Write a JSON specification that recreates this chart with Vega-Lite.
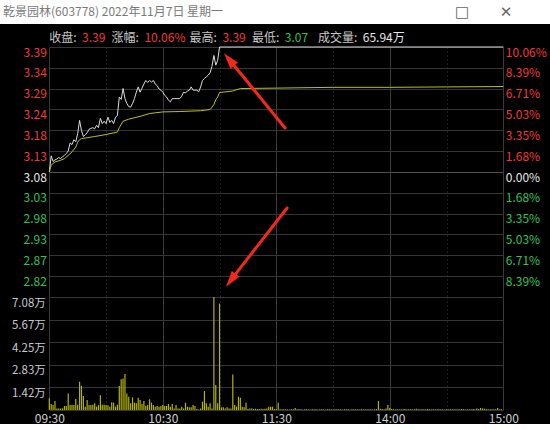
{
  "$schema": "https://vega.github.io/schema/vega-lite/v6.json",
  "background": "#000000",
  "padding": 0,
  "spacing": 0,
  "bounds": "flush",
  "config": {
    "view": {"stroke": null},
    "font": "Noto Sans CJK SC",
    "axis": {"labelFont": "Noto Sans CJK SC", "domain": false, "ticks": false, "tickSize": 0, "title": null, "labelOverlap": false, "labelFlush": false},
    "concat": {"spacing": 0}
  },
  "datasets": {
    "winbtn": [{"b": "□"}, {"b": "✕"}],
    "header": [
      {"k": "收盘:", "v": "3.39", "dir": "up"},
      {"k": "涨幅:", "v": "10.06%", "dir": "up"},
      {"k": "最高:", "v": "3.39", "dir": "up"},
      {"k": "最低:", "v": "3.07", "dir": "down"},
      {"k": "成交量:", "v": "65.94万", "dir": "flat"}
    ],
    "price": [
      {"m": 0, "p": 3.08}, {"m": 1, "p": 3.12}, {"m": 2, "p": 3.106}, {"m": 3, "p": 3.11}, {"m": 4, "p": 3.112},
      {"m": 5, "p": 3.116}, {"m": 6, "p": 3.113}, {"m": 7, "p": 3.118}, {"m": 8, "p": 3.121}, {"m": 9, "p": 3.126},
      {"m": 10, "p": 3.132}, {"m": 11, "p": 3.152}, {"m": 12, "p": 3.148}, {"m": 13, "p": 3.16}, {"m": 14, "p": 3.155},
      {"m": 15, "p": 3.175}, {"m": 16, "p": 3.208}, {"m": 17, "p": 3.183}, {"m": 18, "p": 3.168}, {"m": 19, "p": 3.172},
      {"m": 20, "p": 3.177}, {"m": 21, "p": 3.186}, {"m": 22, "p": 3.188}, {"m": 23, "p": 3.19}, {"m": 24, "p": 3.187},
      {"m": 25, "p": 3.196}, {"m": 26, "p": 3.19}, {"m": 27, "p": 3.213}, {"m": 28, "p": 3.2}, {"m": 29, "p": 3.206},
      {"m": 30, "p": 3.2}, {"m": 31, "p": 3.216}, {"m": 32, "p": 3.203}, {"m": 33, "p": 3.208}, {"m": 34, "p": 3.2},
      {"m": 35, "p": 3.216}, {"m": 36, "p": 3.22}, {"m": 37, "p": 3.266}, {"m": 38, "p": 3.26}, {"m": 39, "p": 3.287},
      {"m": 40, "p": 3.262}, {"m": 41, "p": 3.25}, {"m": 42, "p": 3.242}, {"m": 43, "p": 3.241}, {"m": 44, "p": 3.25},
      {"m": 45, "p": 3.262}, {"m": 46, "p": 3.278}, {"m": 47, "p": 3.291}, {"m": 48, "p": 3.278}, {"m": 49, "p": 3.288},
      {"m": 50, "p": 3.298}, {"m": 51, "p": 3.307}, {"m": 52, "p": 3.302}, {"m": 53, "p": 3.307}, {"m": 54, "p": 3.303},
      {"m": 55, "p": 3.307}, {"m": 56, "p": 3.298}, {"m": 57, "p": 3.294}, {"m": 58, "p": 3.286}, {"m": 59, "p": 3.283},
      {"m": 60, "p": 3.278}, {"m": 61, "p": 3.27}, {"m": 62, "p": 3.266}, {"m": 63, "p": 3.258}, {"m": 64, "p": 3.254},
      {"m": 65, "p": 3.262}, {"m": 66, "p": 3.262}, {"m": 67, "p": 3.262}, {"m": 68, "p": 3.262}, {"m": 69, "p": 3.262},
      {"m": 70, "p": 3.268}, {"m": 71, "p": 3.278}, {"m": 72, "p": 3.276}, {"m": 73, "p": 3.281}, {"m": 74, "p": 3.283},
      {"m": 75, "p": 3.291}, {"m": 76, "p": 3.283}, {"m": 77, "p": 3.283}, {"m": 78, "p": 3.283}, {"m": 79, "p": 3.279},
      {"m": 80, "p": 3.291}, {"m": 81, "p": 3.307}, {"m": 82, "p": 3.312}, {"m": 83, "p": 3.316}, {"m": 84, "p": 3.32},
      {"m": 85, "p": 3.326}, {"m": 86, "p": 3.342}, {"m": 87, "p": 3.369}, {"m": 88, "p": 3.345}, {"m": 89, "p": 3.357},
      {"m": 90, "p": 3.39}, {"m": 240, "p": 3.39}
    ],
    "avg": [
      {"m": 0, "a": 3.08}, {"m": 1, "a": 3.097}, {"m": 3, "a": 3.105}, {"m": 6, "a": 3.109}, {"m": 8, "a": 3.113},
      {"m": 10, "a": 3.121}, {"m": 12, "a": 3.13}, {"m": 14, "a": 3.142}, {"m": 15, "a": 3.154}, {"m": 16, "a": 3.16},
      {"m": 17, "a": 3.163}, {"m": 20, "a": 3.165}, {"m": 24, "a": 3.168}, {"m": 30, "a": 3.173}, {"m": 36, "a": 3.179},
      {"m": 37, "a": 3.19}, {"m": 39, "a": 3.206}, {"m": 42, "a": 3.211}, {"m": 48, "a": 3.218}, {"m": 53, "a": 3.225},
      {"m": 60, "a": 3.229}, {"m": 69, "a": 3.23}, {"m": 80, "a": 3.232}, {"m": 85, "a": 3.235}, {"m": 87, "a": 3.247},
      {"m": 88, "a": 3.259}, {"m": 89, "a": 3.266}, {"m": 90, "a": 3.277}, {"m": 97, "a": 3.281}, {"m": 101, "a": 3.287},
      {"m": 120, "a": 3.288}, {"m": 150, "a": 3.29}, {"m": 180, "a": 3.29}, {"m": 210, "a": 3.291}, {"m": 240, "a": 3.292}
    ],
    "arrows": [
      {"id": "high", "m0": 124.6, "p0": 3.1891, "m1": 96.7, "p1": 3.3496, "mt": 92.35, "pt": 3.3744},
      {"id": "vol", "m0": 125.7, "p0": 2.9907, "m1": 97.5, "p1": 2.8213, "mt": 93.4, "pt": 2.7956}
    ],
    "vol": [
      {"m": 0, "v": 0.73}, {"m": 1, "v": 0.38}, {"m": 2, "v": 0.31}, {"m": 3, "v": 0.56}, {"m": 4, "v": 0.1},
      {"m": 5, "v": 0.1}, {"m": 6, "v": 0.1}, {"m": 7, "v": 0.1}, {"m": 8, "v": 0.25}, {"m": 9, "v": 0.25},
      {"m": 10, "v": 1.04}, {"m": 11, "v": 0.31}, {"m": 12, "v": 0.33}, {"m": 13, "v": 0.31}, {"m": 14, "v": 0.69},
      {"m": 15, "v": 0.33}, {"m": 16, "v": 1.77}, {"m": 17, "v": 1.52}, {"m": 18, "v": 0.88}, {"m": 19, "v": 0.21},
      {"m": 20, "v": 0.62}, {"m": 21, "v": 0.31}, {"m": 22, "v": 0.31}, {"m": 23, "v": 0.33}, {"m": 24, "v": 0.42},
      {"m": 25, "v": 0.21}, {"m": 26, "v": 0.31}, {"m": 27, "v": 0.92}, {"m": 28, "v": 0.33}, {"m": 29, "v": 0.33},
      {"m": 30, "v": 0.31}, {"m": 31, "v": 0.29}, {"m": 32, "v": 0.21}, {"m": 33, "v": 0.48}, {"m": 34, "v": 0.46},
      {"m": 35, "v": 0.21}, {"m": 36, "v": 0.33}, {"m": 37, "v": 1.5}, {"m": 38, "v": 1.92}, {"m": 39, "v": 1.98},
      {"m": 40, "v": 2.25}, {"m": 41, "v": 1.04}, {"m": 42, "v": 0.83}, {"m": 43, "v": 0.42}, {"m": 44, "v": 0.79},
      {"m": 45, "v": 0.46}, {"m": 46, "v": 0.42}, {"m": 47, "v": 0.77}, {"m": 48, "v": 0.62}, {"m": 49, "v": 0.38},
      {"m": 50, "v": 0.56}, {"m": 51, "v": 0.27}, {"m": 52, "v": 0.31}, {"m": 53, "v": 0.67}, {"m": 54, "v": 0.46},
      {"m": 55, "v": 0.31}, {"m": 56, "v": 0.21}, {"m": 57, "v": 0.25}, {"m": 58, "v": 0.21}, {"m": 59, "v": 0.25},
      {"m": 60, "v": 0.31}, {"m": 61, "v": 0.25}, {"m": 62, "v": 0.25}, {"m": 63, "v": 0.38}, {"m": 64, "v": 0.21},
      {"m": 65, "v": 0.38}, {"m": 66, "v": 0.1}, {"m": 67, "v": 0.31}, {"m": 68, "v": 0.1}, {"m": 69, "v": 0.1},
      {"m": 70, "v": 0.2}, {"m": 71, "v": 0.1}, {"m": 72, "v": 0.46}, {"m": 73, "v": 0.21}, {"m": 74, "v": 0.17},
      {"m": 75, "v": 0.17}, {"m": 76, "v": 0.31}, {"m": 77, "v": 0.25}, {"m": 78, "v": 0.06}, {"m": 79, "v": 0.03},
      {"m": 80, "v": 0.1}, {"m": 81, "v": 0.52}, {"m": 82, "v": 1.19}, {"m": 83, "v": 0.42}, {"m": 84, "v": 0.21},
      {"m": 85, "v": 0.42}, {"m": 86, "v": 0.1}, {"m": 87, "v": 7.08}, {"m": 88, "v": 1.56}, {"m": 89, "v": 0.42},
      {"m": 90, "v": 6.67}, {"m": 91, "v": 0.17}, {"m": 92, "v": 0.17}, {"m": 93, "v": 0.1}, {"m": 94, "v": 0.17},
      {"m": 95, "v": 0.1}, {"m": 96, "v": 0.1}, {"m": 97, "v": 2.23}, {"m": 98, "v": 0.31}, {"m": 99, "v": 0.21},
      {"m": 100, "v": 0.83}, {"m": 101, "v": 0.77}, {"m": 102, "v": 0.21}, {"m": 103, "v": 0.17}, {"m": 104, "v": 0.46},
      {"m": 105, "v": 0.06}, {"m": 106, "v": 0.1}, {"m": 107, "v": 0.1}, {"m": 108, "v": 0.06}, {"m": 109, "v": 0.08},
      {"m": 110, "v": 0.06}, {"m": 111, "v": 0.06}, {"m": 112, "v": 0.08}, {"m": 113, "v": 0.06}, {"m": 114, "v": 0.08},
      {"m": 115, "v": 0.1}, {"m": 116, "v": 0.21}, {"m": 117, "v": 0.21}, {"m": 118, "v": 0.21}, {"m": 119, "v": 0.06},
      {"m": 120, "v": 0.06}, {"m": 121, "v": 0.46}, {"m": 122, "v": 0.05}, {"m": 123, "v": 0.04}, {"m": 124, "v": 0.05},
      {"m": 125, "v": 0.04}, {"m": 126, "v": 0.05}, {"m": 127, "v": 0.03}, {"m": 128, "v": 0.05}, {"m": 129, "v": 0.04},
      {"m": 130, "v": 0.13}, {"m": 131, "v": 0.05}, {"m": 132, "v": 0.04}, {"m": 133, "v": 0.05}, {"m": 134, "v": 0.03},
      {"m": 135, "v": 0.04}, {"m": 136, "v": 0.05}, {"m": 137, "v": 0.04}, {"m": 138, "v": 0.03}, {"m": 139, "v": 0.05},
      {"m": 140, "v": 0.04}, {"m": 141, "v": 0.05}, {"m": 142, "v": 0.03}, {"m": 143, "v": 0.04}, {"m": 144, "v": 0.05},
      {"m": 145, "v": 0.04}, {"m": 146, "v": 0.03}, {"m": 147, "v": 0.05}, {"m": 148, "v": 0.04}, {"m": 149, "v": 0.05},
      {"m": 150, "v": 0.03}, {"m": 151, "v": 0.04}, {"m": 152, "v": 0.05}, {"m": 153, "v": 0.04}, {"m": 154, "v": 0.05},
      {"m": 155, "v": 0.03}, {"m": 156, "v": 0.04}, {"m": 157, "v": 0.05}, {"m": 158, "v": 0.04}, {"m": 159, "v": 0.03},
      {"m": 160, "v": 0.05}, {"m": 161, "v": 0.04}, {"m": 162, "v": 0.05}, {"m": 163, "v": 0.04}, {"m": 164, "v": 0.03},
      {"m": 165, "v": 0.05}, {"m": 166, "v": 0.04}, {"m": 167, "v": 0.05}, {"m": 168, "v": 0.04}, {"m": 169, "v": 0.05},
      {"m": 170, "v": 0.04}, {"m": 171, "v": 0.03}, {"m": 172, "v": 0.05}, {"m": 173, "v": 0.06}, {"m": 174, "v": 0.56},
      {"m": 175, "v": 0.08}, {"m": 176, "v": 0.06}, {"m": 177, "v": 0.05}, {"m": 178, "v": 0.1}, {"m": 179, "v": 0.31},
      {"m": 180, "v": 0.12}, {"m": 181, "v": 0.06}, {"m": 182, "v": 0.05}, {"m": 183, "v": 0.04}, {"m": 184, "v": 0.05},
      {"m": 185, "v": 0.04}, {"m": 186, "v": 0.05}, {"m": 187, "v": 0.04}, {"m": 188, "v": 0.06}, {"m": 189, "v": 0.05},
      {"m": 190, "v": 0.04}, {"m": 191, "v": 0.05}, {"m": 192, "v": 0.04}, {"m": 193, "v": 0.05}, {"m": 194, "v": 0.08},
      {"m": 195, "v": 0.04}, {"m": 196, "v": 0.05}, {"m": 197, "v": 0.04}, {"m": 198, "v": 0.05}, {"m": 199, "v": 0.04},
      {"m": 200, "v": 0.06}, {"m": 201, "v": 0.05}, {"m": 202, "v": 0.04}, {"m": 203, "v": 0.05}, {"m": 204, "v": 0.04},
      {"m": 205, "v": 0.05}, {"m": 206, "v": 0.04}, {"m": 207, "v": 0.05}, {"m": 208, "v": 0.04}, {"m": 209, "v": 0.03},
      {"m": 210, "v": 0.05}, {"m": 211, "v": 0.04}, {"m": 212, "v": 0.05}, {"m": 213, "v": 0.04}, {"m": 214, "v": 0.05},
      {"m": 215, "v": 0.04}, {"m": 216, "v": 0.05}, {"m": 217, "v": 0.04}, {"m": 218, "v": 0.06}, {"m": 219, "v": 0.05},
      {"m": 220, "v": 0.04}, {"m": 221, "v": 0.05}, {"m": 222, "v": 0.04}, {"m": 223, "v": 0.05}, {"m": 224, "v": 0.06},
      {"m": 225, "v": 0.05}, {"m": 226, "v": 0.1}, {"m": 227, "v": 0.06}, {"m": 228, "v": 0.12}, {"m": 229, "v": 0.1},
      {"m": 230, "v": 0.08}, {"m": 231, "v": 0.06}, {"m": 232, "v": 0.05}, {"m": 233, "v": 0.04}, {"m": 234, "v": 0.05},
      {"m": 235, "v": 0.04}, {"m": 236, "v": 0.05}, {"m": 237, "v": 0.12}, {"m": 238, "v": 0.04}, {"m": 239, "v": 0.05}
    ]
  },
  "vconcat": [
    {
      "width": 550,
      "height": 24,
      "view": {"fill": "#ffffff", "stroke": null},
      "title": {"text": "乾景园林(603778)  2022年11月7日  星期一", "anchor": "start", "frame": "group", "orient": "top", "offset": -18, "dx": 3, "dy": 6, "fontSize": 12, "font": "Noto Sans CJK SC", "fontWeight": "normal", "color": "#7a7a7a", "baseline": "middle"},
      "data": {"name": "winbtn"},
      "mark": {"type": "text", "fontSize": 15, "color": "#666666", "font": "DejaVu Sans", "baseline": "middle"},
      "encoding": {
        "x": {"field": "b", "type": "nominal", "sort": null, "scale": {"type": "point", "domain": ["□", "✕"], "range": [462, 506], "padding": 0}, "axis": null},
        "text": {"field": "b"}
      }
    },
    {
      "width": 550,
      "height": 23,
      "data": {"name": "header"},
      "encoding": {
        "x": {"field": "k", "type": "nominal", "sort": null,
              "scale": {"type": "point", "padding": 0, "range": [78.5, 359.3],
                        "domain": ["收盘:", "_a", "_b", "_c", "涨幅:", "_d", "_e", "_f", "_g", "最高:", "_h", "_i", "_j", "最低:", "_k", "_l", "_m", "_n", "成交量:"]},
              "axis": null}
      },
      "layer": [
        {"mark": {"type": "text", "align": "right", "baseline": "middle", "dy": 2, "dx": -2, "fontSize": 12, "color": "#c8c8c8"}, "encoding": {"text": {"field": "k"}}},
        {"mark": {"type": "text", "align": "left", "baseline": "middle", "dy": 2, "dx": 3.5, "fontSize": 12},
         "encoding": {"text": {"field": "v"}, "color": {"field": "dir", "type": "nominal", "scale": {"domain": ["up", "down", "flat"], "range": ["#f03a3a", "#2ec45c", "#e6e6e6"]}, "legend": null}}}
      ]
    },
    {
      "width": 550,
      "height": 250,
      "resolve": {"axis": {"y": "independent"}},
      "layer": [
        {
          "data": {"name": "price"},
          "mark": {"type": "line", "color": "#dcdcdc", "strokeWidth": 1},
          "encoding": {
            "x": {"field": "m", "type": "quantitative", "scale": {"domain": [0, 240], "range": [49.3, 503.3], "nice": false, "zero": false},
                  "axis": {"values": [0, 30, 60, 90, 120, 150, 180, 210, 240], "labels": false, "grid": true, "gridColor": "#3a3a3a",
                           "gridDash": {"condition": {"test": "datum.value % 60 !== 0", "value": [1, 3]}, "value": []}, "title": null}},
            "y": {"field": "p", "type": "quantitative", "scale": {"domain": [2.77, 3.39], "nice": false, "zero": false},
                  "axis": {"orient": "left", "offset": -49.3, "title": null,
                           "values": [2.77, 2.822, 2.873, 2.9252, 2.977, 3.028, 3.08, 3.132, 3.183, 3.2351, 3.287, 3.338, 3.39],
                           "labelExpr": "datum.value < 2.79 ? '' : format(datum.value, '.2f')",
                           "labelBaseline": "top", "labelAlign": "right", "labelPadding": 3, "labelFontSize": 12,
                           "labelColor": {"expr": "datum.value > 3.085 ? '#f03a3a' : (datum.value < 3.075 ? '#2ec45c' : '#e8e8e8')"},
                           "grid": true,
                           "gridColor": {"condition": {"test": "abs(datum.value - 3.08) < 0.001", "value": "#505050"}, "value": "#353535"}}}
          }
        },
        {
          "data": {"name": "avg"},
          "mark": {"type": "line", "color": "#c0c010", "strokeWidth": 1},
          "encoding": {
            "x": {"field": "m", "type": "quantitative"},
            "y": {"field": "a", "type": "quantitative", "scale": {"domain": [2.77, 3.39], "nice": false, "zero": false},
                  "axis": {"orient": "right", "offset": -46.7, "title": null, "grid": false,
                           "values": [2.77, 2.822, 2.873, 2.9252, 2.977, 3.028, 3.08, 3.132, 3.183, 3.2351, 3.287, 3.338, 3.39],
                           "labelExpr": "datum.value < 2.79 ? '' : ['0.00%','1.68%','3.35%','5.03%','6.71%','8.39%','10.06%'][abs(round((datum.value - 3.08) / 0.051667))]",
                           "labelBaseline": "top", "labelAlign": "left", "labelPadding": 2, "labelFontSize": 12,
                           "labelColor": {"expr": "datum.value > 3.085 ? '#f03a3a' : (datum.value < 3.075 ? '#2ec45c' : '#e8e8e8')"}}}
          }
        },
        {
          "data": {"name": "arrows"},
          "mark": {"type": "rule", "color": "#f2291c", "strokeWidth": 3, "strokeCap": "round"},
          "encoding": {
            "x": {"field": "m0", "type": "quantitative"},
            "x2": {"field": "m1"},
            "y": {"field": "p0", "type": "quantitative", "axis": null},
            "y2": {"field": "p1"}
          }
        },
        {
          "data": {"name": "arrows"},
          "transform": [{"filter": "datum.id == 'high'"}],
          "mark": {"type": "point", "shape": "M0,0L0.6,2L-0.6,2Z", "filled": true, "opacity": 1, "color": "#f2291c", "size": 256, "angle": 320.5},
          "encoding": {
            "x": {"field": "mt", "type": "quantitative"},
            "y": {"field": "pt", "type": "quantitative", "axis": null}
          }
        },
        {
          "data": {"name": "arrows"},
          "transform": [{"filter": "datum.id == 'vol'"}],
          "mark": {"type": "point", "shape": "M0,0L0.6,2L-0.6,2Z", "filled": true, "opacity": 1, "color": "#f2291c", "size": 256, "angle": 216.9},
          "encoding": {
            "x": {"field": "mt", "type": "quantitative"},
            "y": {"field": "pt", "type": "quantitative", "axis": null}
          }
        }
      ]
    },
    {
      "width": 550,
      "height": 113,
      "data": {"name": "vol"},
      "mark": {"type": "rule", "color": "#b4b400", "strokeWidth": 1.2},
      "encoding": {
        "x": {"field": "m", "type": "quantitative", "scale": {"domain": [0, 240], "range": [49.3, 503.3], "nice": false, "zero": false},
              "axis": {"values": [0, 30, 60, 90, 120, 150, 180, 210, 240], "title": null,
                       "labelExpr": "datum.value == 0 ? '09:30' : datum.value == 60 ? '10:30' : datum.value == 120 ? '11:30' : datum.value == 180 ? '14:00' : datum.value == 240 ? '15:00' : ''",
                       "labelColor": "#d0d0d0", "labelFontSize": 12, "labelPadding": 3, "labelBaseline": "top",
                       "grid": true, "gridColor": "#3a3a3a",
                       "gridDash": {"condition": {"test": "datum.value % 60 !== 0", "value": [1, 3]}, "value": []}}},
        "y": {"field": "v", "type": "quantitative", "scale": {"domain": [0, 7.084], "nice": false, "zero": true},
              "axis": {"orient": "left", "offset": -49.3, "title": null,
                       "values": [0, 1.4168, 2.8336, 4.2504, 5.6672, 7.084],
                       "labelExpr": "datum.value < 0.1 ? '' : format(datum.value, '.2f') + '万'",
                       "labelBaseline": "top", "labelAlign": "right", "labelPadding": 4, "labelFontSize": 11.5, "labelColor": "#c8c8d2",
                       "grid": true, "gridColor": "#353535"}},
        "y2": {"datum": 0}
      }
    }
  ]
}
